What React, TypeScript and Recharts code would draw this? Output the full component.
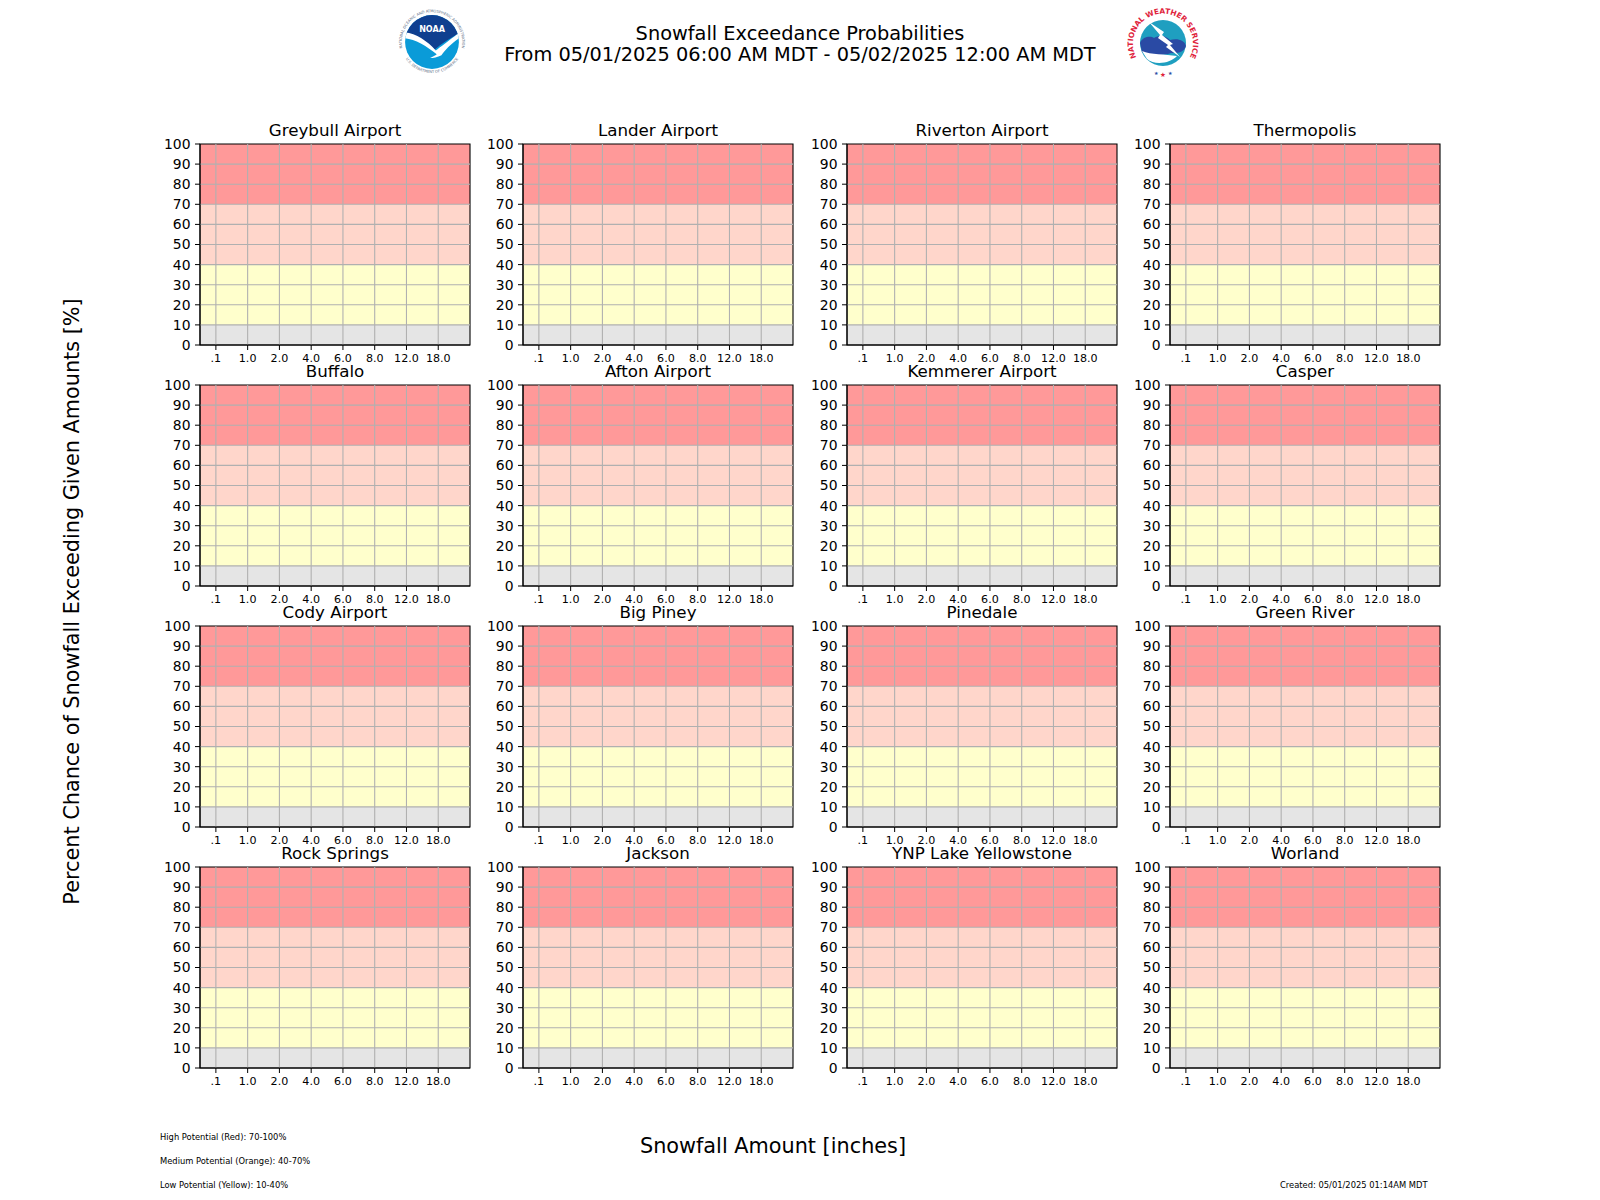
import { ComposedChart, Bar, XAxis, YAxis, ReferenceArea, ReferenceLine } from 'recharts'

const FONT = '"DejaVu Sans", sans-serif'

const stations = [
  'Greybull Airport', 'Lander Airport', 'Riverton Airport', 'Thermopolis',
  'Buffalo', 'Afton Airport', 'Kemmerer Airport', 'Casper',
  'Cody Airport', 'Big Piney', 'Pinedale', 'Green River',
  'Rock Springs', 'Jackson', 'YNP Lake Yellowstone', 'Worland',
]
const amounts = ['.1', '1.0', '2.0', '4.0', '6.0', '8.0', '12.0', '18.0']
const amountPositions = [0, 1, 2, 3, 4, 5, 6, 7]
// nothing exceeds at any site on this forecast
const chances = [0, 0, 0, 0, 0, 0, 0, 0]
const yTicks = [0, 10, 20, 30, 40, 50, 60, 70, 80, 90, 100]
const bandEdges = [0, 10, 40, 70, 100]
const bandColors = ['#e5e5e5', '#ffffcc', '#ffd6cb', '#ff9999']

const chartData = amountPositions.map((pos, i) => ({ pos, chance: chances[i] }))

const PANEL_W = 270
const PANEL_H = 201
const Y_AXIS_W = 40
const M_TOP = 30
const X_AXIS_H = 30
const lefts = [200, 523.2, 846.6, 1170]
const tops = [144, 385.2, 626.2, 867.3]

const Panel = ({ name, left, top }: { name: string; left: number; top: number }) => (
  <div style={{ position: 'absolute', left: left - Y_AXIS_W, top: top - M_TOP }}>
    <ComposedChart
      width={PANEL_W + Y_AXIS_W + 6}
      height={PANEL_H + M_TOP + X_AXIS_H}
      data={chartData}
      margin={{ left: 0, right: 6, top: M_TOP, bottom: 0 }}
      style={{ overflow: 'visible' }}
    >
      <XAxis
        dataKey="pos"
        type="number"
        domain={[-0.5, 8]}
        ticks={amountPositions}
        tickFormatter={(v: number) => amounts[v]}
        interval={0}
        height={X_AXIS_H}
        allowDataOverflow
        tick={{ fontSize: 11.1, fill: '#000', fontFamily: FONT }}
        tickSize={5}
        tickMargin={4}
        stroke="#000"
      />
      <YAxis
        type="number"
        domain={[0, 100]}
        ticks={yTicks}
        interval={0}
        width={Y_AXIS_W}
        tick={{ fontSize: 13.9, fill: '#000', fontFamily: FONT }}
        tickSize={5}
        tickMargin={4.5}
        stroke="#000"
      />
      {bandColors.map((color, i) => (
        <ReferenceArea key={color} y1={bandEdges[i]} y2={bandEdges[i + 1]} fill={color} fillOpacity={1} stroke="none" />
      ))}
      {amountPositions.map((pos) => (
        <ReferenceLine key={pos} x={pos} stroke="#b0b0b0" strokeWidth={1.1} />
      ))}
      {yTicks.slice(1, -1).map((v) => (
        <ReferenceLine key={v} y={v} stroke="#b0b0b0" strokeWidth={1.1} />
      ))}
      <Bar dataKey="chance" fill="#1f77b4" isAnimationActive={false} />
      <ReferenceArea
        y1={0}
        y2={100}
        fill="none"
        stroke="#000"
        strokeWidth={1.1}
        label={{ value: name, position: 'top', offset: 8, fontSize: 16.7, fill: '#000', fontFamily: FONT }}
      />
    </ComposedChart>
  </div>
)

const NoaaLogo = () => (
  <svg style={{ position: 'absolute', left: 398, top: 7 }} width={68} height={70} viewBox="0 0 72 72">
    <defs>
      <path id="noaaTop" d="M 7 50 A 32 32 0 1 1 65 50" />
      <path id="noaaBottom" d="M 4 44 A 33 33 0 0 0 68 44" />
      <clipPath id="noaaDisc"><circle cx="36" cy="36" r="28.5" /></clipPath>
    </defs>
    <text fontSize={3.9} fill="#5b6d86" fontFamily={FONT}>
      <textPath href="#noaaTop" startOffset="50%" textAnchor="middle">NATIONAL OCEANIC AND ATMOSPHERIC ADMINISTRATION</textPath>
    </text>
    <text fontSize={3.9} fill="#5b6d86" fontFamily={FONT}>
      <textPath href="#noaaBottom" startOffset="50%" textAnchor="middle">U.S. DEPARTMENT OF COMMERCE</textPath>
    </text>
    <g clipPath="url(#noaaDisc)">
      <rect x="0" y="0" width="72" height="72" fill="#0a9bd8" />
      <path d="M 5 5 H 67 V 26 C 58 30 46 38 39 44 C 30 36 18 28 5 26 Z" fill="#0f3f8f" />
      <path d="M 6 26 C 18 26 31 35 40 45 C 45 41 52 36 66 25 L 66 31 C 56 38 50 44 46 50 C 42 52 37 53 34 53 C 38 51 40 50 41 49 C 30 40 18 33 7 32 Z" fill="#fff" />
    </g>
    <text x="36" y="25" textAnchor="middle" fontSize={8.5} fontWeight={700} fill="#fff" fontFamily={FONT}>NOAA</text>
  </svg>
)

const NwsLogo = () => (
  <svg style={{ position: 'absolute', left: 1127, top: 6 }} width={72} height={72} viewBox="0 0 72 72">
    <defs>
      <path id="nwsTop" d="M 14 58 A 30 30 0 1 1 58 58" />
    </defs>
    <text fontSize={7.4} fontWeight={700} fill="#e0233c" fontFamily={FONT}>
      <textPath href="#nwsTop" startOffset="50%" textAnchor="middle">NATIONAL WEATHER SERVICE</textPath>
    </text>
    <circle cx="36" cy="37" r="23" fill="#1f9fc0" />
    <path d="M 13 37 C 16 30 24 30 27 32 C 34 28 40 31 43 34 C 50 32 58 34 59 40 C 57 47 50 47 44 47 C 36 50 22 50 15 46 Z" fill="#2a4aa4" />
    <path d="M 15 45 C 24 49 38 48 50 50 C 44 57 28 60 20 53 Z" fill="#fff" />
    <path d="M 22 16 L 37 26 L 35 29 L 46 38 L 43 39 L 53 51 L 39 41 L 41 39 L 31 32 L 33 29 Z" fill="#fff" />
    <text x="27" y="69" fontSize={5} fill="#2a4aa4" fontFamily={FONT}>★</text>
    <text x="33" y="70.5" fontSize={6.5} fill="#e0233c" fontFamily={FONT}>★</text>
    <text x="41" y="69" fontSize={5} fill="#2a4aa4" fontFamily={FONT}>★</text>
  </svg>
)

const App = () => (
  <div style={{ position: 'absolute', left: 0, top: 0, width: 1600, height: 1200, background: '#fff', overflow: 'hidden' }}>
    <svg style={{ position: 'absolute', left: 0, top: 0 }} width={1600} height={1200} fontFamily={FONT} fill="#000">
      <text x={800} y={40} textAnchor="middle" fontSize={19.35}>Snowfall Exceedance Probabilities</text>
      <text x={800} y={61} textAnchor="middle" fontSize={19.35}>From 05/01/2025 06:00 AM MDT - 05/02/2025 12:00 AM MDT</text>
      <text x={773} y={1153} textAnchor="middle" fontSize={20.8}>Snowfall Amount [inches]</text>
      <text transform="translate(79 601.5) rotate(-90)" textAnchor="middle" fontSize={20.8}>Percent Chance of Snowfall Exceeding Given Amounts [%]</text>
      <text x={160} y={1140} fontSize={8.35}>High Potential (Red): 70-100%</text>
      <text x={160} y={1164} fontSize={8.35}>Medium Potential (Orange): 40-70%</text>
      <text x={160} y={1188} fontSize={8.35}>Low Potential (Yellow): 10-40%</text>
      <text x={1280} y={1188} fontSize={8.35}>Created: 05/01/2025 01:14AM MDT</text>
    </svg>
    <NoaaLogo />
    <NwsLogo />
    {stations.map((name, i) => (
      <Panel key={name} name={name} left={lefts[i % 4]} top={tops[Math.floor(i / 4)]} />
    ))}
  </div>
)

export default App
